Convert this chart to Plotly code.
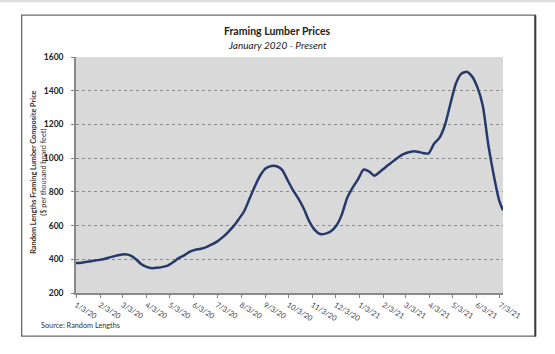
import datetime as dt
import plotly.graph_objects as go

# ---- data (weekly composite price) ----
start_date = "2020-01-03"
prices = [378, 380, 385, 390, 395, 400, 410, 418, 426, 430,
          423, 402, 372, 355, 347, 350, 355, 364, 385, 408,
          425, 445, 457, 462, 472, 488, 505, 530, 560, 595,
          638, 685, 760, 835, 900, 940, 954, 952, 930, 870,
          810, 760, 700, 625, 575, 550, 552, 566, 600, 665,
          765, 825, 875, 932, 922, 895, 918, 945, 970, 995,
          1018, 1032, 1040, 1038, 1030, 1028, 1085, 1120, 1195, 1320,
          1440, 1500, 1512, 1485, 1420, 1310, 1080, 900, 750]
last_date = "2021-07-07"
last_price = 690

tick_dates = ["2020-01-03", "2020-02-03", "2020-03-03", "2020-04-03", "2020-05-03",
              "2020-06-03", "2020-07-03", "2020-08-03", "2020-09-03", "2020-10-03",
              "2020-11-03", "2020-12-03", "2021-01-03", "2021-02-03", "2021-03-03",
              "2021-04-03", "2021-05-03", "2021-06-03", "2021-07-03"]
tick_labels = ["1/3/20", "2/3/20", "3/3/20", "4/3/20", "5/3/20", "6/3/20", "7/3/20",
               "8/3/20", "9/3/20", "10/3/20", "11/3/20", "12/3/20", "1/3/21", "2/3/21",
               "3/3/21", "4/3/21", "5/3/21", "6/3/21", "7/3/21"]

title_text = "<b>Framing Lumber Prices</b>"
subtitle_text = "<i>January 2020 - Present</i>"
ytitle_text = "<b>Random Lengths Framing Lumber Composite Price</b><br>($ per thousand board feet)"
source_text = "Source: Random Lengths"

d0 = dt.date.fromisoformat(start_date)
dates = [(d0 + dt.timedelta(days=7 * i)).isoformat() for i in range(len(prices))]
dates.append(last_date)
values = prices + [last_price]

# ---- layout geometry (pixels) ----
W, H = 555, 354
PL, PR, PT, PB = 76, 502.7, 57.3, 293.0
pw, ph = PR - PL, PB - PT

def px(x):
    return (x - PL) / pw

def py(y):
    return (PB - y) / ph

fig = go.Figure()
fig.add_trace(go.Scatter(
    x=dates, y=values, mode="lines",
    line=dict(color="#25396a", width=2.5, shape="spline", smoothing=0.6),
    hoverinfo="skip", showlegend=False))

fig.update_layout(
    width=W, height=H,
    margin=dict(l=PL, r=W - PR, t=PT, b=H - PB, pad=0),
    paper_bgcolor="white", plot_bgcolor="#d9d9d9",
    font=dict(family="Lato, 'Open Sans', sans-serif", color="#333333"),
    showlegend=False,
)
fig.update_xaxes(
    type="date", range=[start_date, last_date],
    tickmode="array", tickvals=tick_dates, ticktext=tick_labels,
    tickangle=32, tickfont=dict(size=7.5, color="#444444"),
    ticks="outside", ticklen=3, tickcolor="#808080", tickwidth=1,
    showgrid=False, showline=True, linecolor="#8a8a8a", linewidth=1.5,
    zeroline=False, fixedrange=True,
)
fig.update_yaxes(
    range=[200, 1600], dtick=200, tick0=200,
    tickfont=dict(size=8.5, color="#222222", weight="bold"),
    ticks="outside", ticklen=3, tickcolor="#808080", ticklabelstandoff=6,
    showgrid=True, gridcolor="#8c8c8c", gridwidth=1, griddash="dot",
    showline=True, linecolor="#8a8a8a", linewidth=1.5,
    zeroline=False, fixedrange=True,
)

# outer frame
fig.add_shape(type="rect", xref="paper", yref="paper",
              x0=px(21.7), x1=px(535), y0=py(336), y1=py(15.5),
              line=dict(color="#6a6a6a", width=1.3), layer="below")
fig.add_shape(type="line", xref="paper", yref="paper",
              x0=px(535), x1=px(535), y0=py(336.5), y1=py(15.5),
              line=dict(color="#3a3a3a", width=2))
# faint top band
fig.add_shape(type="rect", xref="paper", yref="paper",
              x0=px(0), x1=px(555), y0=py(2.5), y1=py(0),
              line=dict(width=0), fillcolor="#dcdcdc", layer="below")

fig.add_annotation(text=title_text, xref="paper", yref="paper",
                   x=px(277), y=py(31), xanchor="center", yanchor="middle",
                   showarrow=False, font=dict(size=10.5, color="#222222"))
fig.add_annotation(text=subtitle_text, xref="paper", yref="paper",
                   x=px(277), y=py(45), xanchor="center", yanchor="middle",
                   showarrow=False, font=dict(size=10, color="#222222"))
fig.add_annotation(text=ytitle_text, xref="paper", yref="paper",
                   x=px(38), y=py(172), xanchor="center", yanchor="middle",
                   textangle=-90, showarrow=False,
                   font=dict(size=7.3, color="#333333"))
fig.add_annotation(text=source_text, xref="paper", yref="paper",
                   x=px(39), y=py(325), xanchor="left", yanchor="middle",
                   showarrow=False, font=dict(size=7.3, color="#333333"))

fig.write_html("out.html")
